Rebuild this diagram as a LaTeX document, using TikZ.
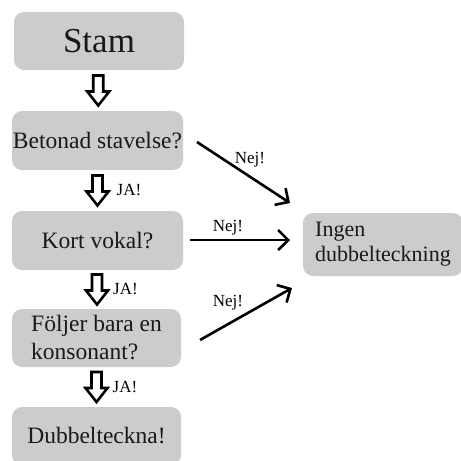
\documentclass[tikz,border=0pt]{standalone}
\usepackage{fontspec}
\setmainfont{Liberation Serif}
\usetikzlibrary{arrows.meta, positioning, calc}

\begin{document}
\begin{tikzpicture}[
  x=1pt, y=-1pt,
  box/.style={rectangle, rounded corners=10pt, fill=gray!40, text=black!90,
              minimum width=170pt, minimum height=58pt, align=center,
              font=\fontsize{23.5}{28}\selectfont, inner sep=0pt},
  svar/.style={font=\fontsize{17}{20}\selectfont, inner sep=0pt},
  nej/.style={line width=2.6pt, -{Straight Barb[length=10pt, width=20pt]}},
  blockpil/.pic={\draw[line width=2.6pt, line join=miter]
     (-5,-15) -- (5,-15) -- (5,1) -- (11,1) -- (0,15) -- (-11,1) -- (-5,1) -- cycle;}
]
\useasboundingbox (0,0) rectangle (461,461);

% Rutor i vänster kolumn
\node[box, font=\fontsize{35}{40}\selectfont] (stam) at (99,41) {Stam};
\node[box, minimum width=171pt, minimum height=59pt] (beton) at (97.5,140.5) {Betonad stavelse?};
\node[box, minimum width=171pt, minimum height=59pt] (kort) at (97.5,240.5) {Kort vokal?};
\node[box, minimum width=169pt, align=left] (foljer) at (96.5,338) {Följer bara en\\konsonant?};
\node[box, minimum width=169pt] (dubbel) at (96.5,436) {Dubbelteckna!};

% Ruta till höger
\node[box, minimum width=160pt, minimum height=63pt, align=left,
      font=\fontsize{22}{25}\selectfont] (ingen) at (383,244.5) {Ingen\\dubbelteckning};

% Blockpilar nedåt
\path (stam.south) -- (beton.north) coordinate[midway] (p1);
\path (beton.south) -- (kort.north) coordinate[midway] (p2);
\path (kort.south) -- (foljer.north) coordinate[midway] (p3);
\path (foljer.south) -- (dubbel.north) coordinate[midway] (p4);
\pic at (p1) {blockpil};
\pic at (p2) {blockpil};
\pic at (p3) {blockpil};
\pic at (p4) {blockpil};

% JA!
\node[svar, right=19pt of p2] (ja1) {JA!};
\node[svar, right=16pt of p3] (ja2) {JA!};
\node[svar, right=16pt of p4] (ja3) {JA!};

% Nej-pilar
\coordinate (n1a) at (197,142);
\coordinate (n1b) at (290,203);
\coordinate (n2a) at (190,240);
\coordinate (n2b) at (290,240);
\coordinate (n3a) at (200,340);
\coordinate (n3b) at (292,288);
\draw[nej] (n1a) -- (n1b);
\draw[nej] (n2a) -- (n2b);
\draw[nej] (n3a) -- (n3b);

\node[svar] (nej1) at (250,160) {Nej!};
\node[svar] (nej2) at (228,228) {Nej!};
\node[svar] (nej3) at (228,303) {Nej!};

\end{tikzpicture}
\end{document}
